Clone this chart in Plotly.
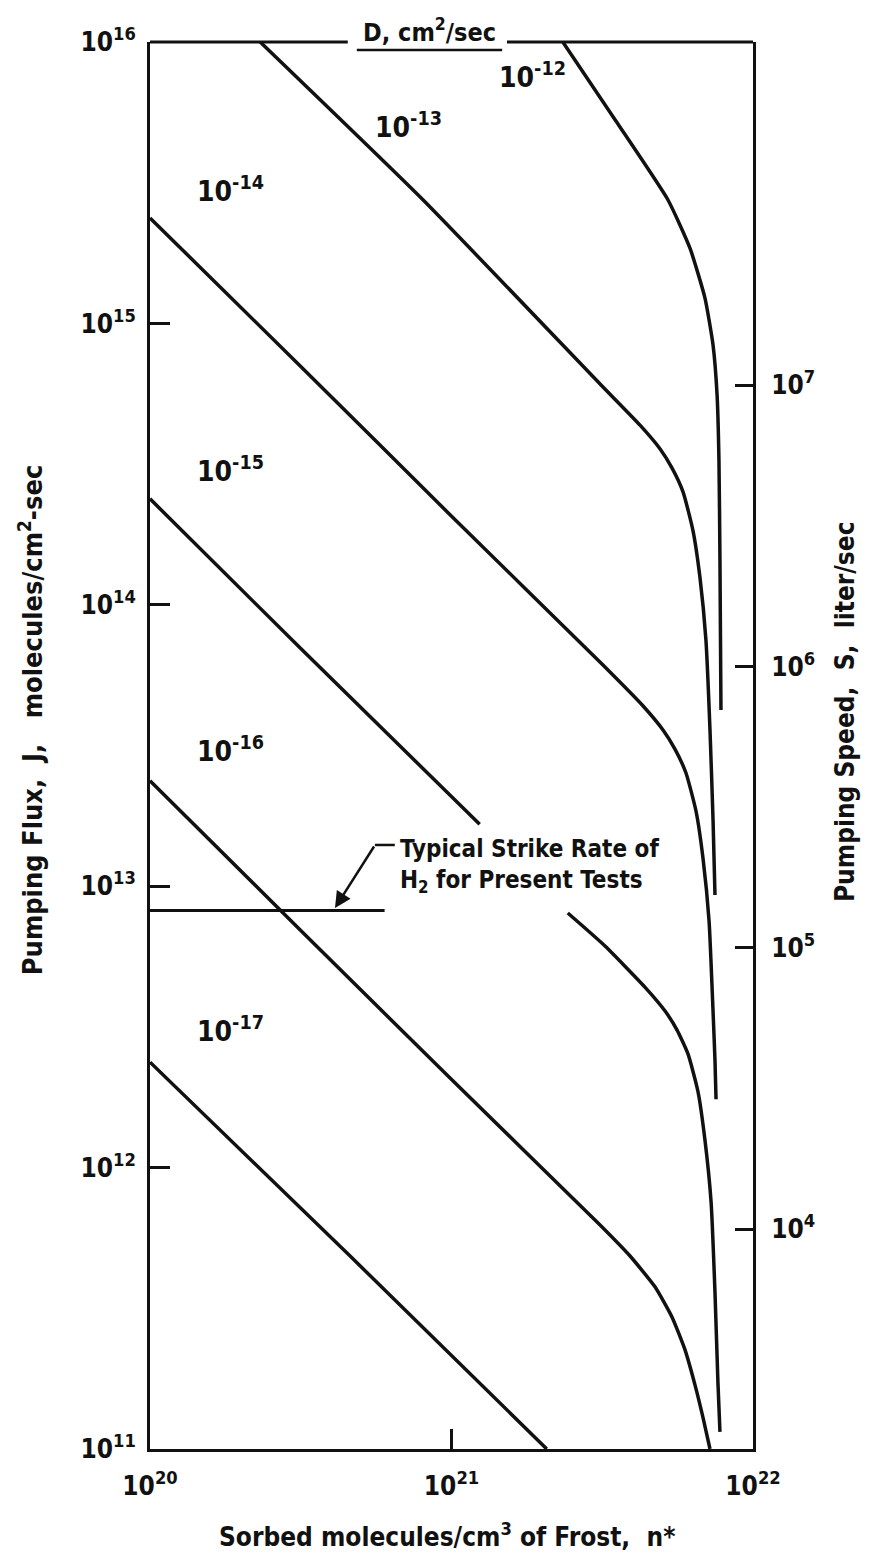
import plotly.graph_objects as go

# sorbed molecules n* (molecules/cm3) vs pumping flux J (molecules/cm2-sec), one curve per D (cm2/sec)
n_d12 = [2.34e21, 3.51e21, 5.22e21, 6.18e21, 6.93e21, 7.37e21, 7.60e21, 7.71e21, 7.77e21, 7.83e21]
J_d12 = [1.0e16, 5.24e15, 2.75e15, 1.85e15, 1.23e15, 8.38e14, 5.57e14, 3.27e14, 1.44e14, 4.23e13]

n_d13 = [2.32e20, 8.04e20, 3.11e21, 4.22e21, 4.92e21, 5.39e21, 5.86e21, 6.32e21, 6.67e21, 6.98e21, 7.20e21, 7.37e21, 7.48e21]
J_d13 = [1.0e16, 2.75e15, 6.09e14, 4.35e14, 3.58e14, 3.06e14, 2.52e14, 1.84e14, 1.25e14, 7.50e13, 3.59e13, 1.72e13, 9.30e12]

n_d14 = [1.0e20, 3.15e20, 9.89e20, 3.18e21, 4.32e21, 5.03e21, 5.51e21, 5.99e21, 6.47e21, 6.83e21, 7.15e21, 7.37e21, 7.48e21, 7.54e21]
J_d14 = [2.37e15, 7.06e14, 2.09e14, 6.11e13, 4.37e13, 3.59e13, 3.07e13, 2.53e13, 1.85e13, 1.25e13, 7.52e12, 3.60e12, 2.41e12, 1.75e12]

# the 1e-15 curve is broken where it runs under the strike-rate note
n_d15 = [1.0e20, 3.15e20, 1.24e21, None, 2.43e21, 3.23e21, 4.38e21, 5.11e21, 5.60e21, 6.09e21, 6.57e21, 6.93e21, 7.26e21, 7.48e21, 7.65e21, 7.77e21]
J_d15 = [2.38e14, 7.02e13, 1.66e13, None, 8.03e12, 6.13e12, 4.38e12, 3.60e12, 3.08e12, 2.53e12, 1.86e12, 1.25e12, 7.55e11, 3.61e11, 1.73e11, 1.15e11]

n_d16 = [1.0e20, 3.15e20, 9.89e20, 3.11e21, 3.91e21, 4.73e21, 5.39e21, 5.95e21, 6.42e21, 6.83e21, 7.20e21]
J_d16 = [2.37e13, 6.99e12, 2.08e12, 6.25e11, 4.85e11, 3.77e11, 2.94e11, 2.25e11, 1.69e11, 1.29e11, 1.0e11]

n_d17 = [1.0e20, 4.61e20, 2.07e21]
J_d17 = [2.37e12, 4.85e11, 1.0e11]

# typical strike rate of H2
n_strike = [1.0e20, 6.0e20]
J_strike = [8.2e12, 8.2e12]

curve_labels = ["10<sup>-12</sup>", "10<sup>-13</sup>", "10<sup>-14</sup>",
                "10<sup>-15</sup>", "10<sup>-16</sup>", "10<sup>-17</sup>"]

x_tickvals = [1e20, 1e21, 1e22]
x_ticktext = ["10<sup>20</sup>", "10<sup>21</sup>", "10<sup>22</sup>"]
y_tickvals = [1e11, 1e12, 1e13, 1e14, 1e15, 1e16]
y_ticktext = ["10<sup>11</sup>", "10<sup>12</sup>", "10<sup>13</sup>",
              "10<sup>14</sup>", "10<sup>15</sup>", "10<sup>16</sup>"]
s_tickvals = [1e4, 1e5, 1e6, 1e7]
s_ticktext = ["10<sup>4</sup>", "10<sup>5</sup>", "10<sup>6</sup>", "10<sup>7</sup>"]

FONT = "DejaVu Sans Condensed, Liberation Sans Narrow, sans-serif"
INK = "#111111"

fig = go.Figure()

curves = [(n_d12, J_d12), (n_d13, J_d13), (n_d14, J_d14),
          (n_d15, J_d15), (n_d16, J_d16), (n_d17, J_d17)]
for n, J in curves:
    fig.add_trace(go.Scatter(x=n, y=J, mode="lines", line=dict(color=INK, width=3.5, shape="spline", smoothing=0.5),
                             connectgaps=False, showlegend=False, hoverinfo="skip"))

fig.add_trace(go.Scatter(x=n_strike, y=J_strike, mode="lines", line=dict(color=INK, width=3),
                         showlegend=False, hoverinfo="skip"))

# invisible trace so the right (pumping speed) axis gets drawn
fig.add_trace(go.Scatter(x=[x_tickvals[0]], y=[s_tickvals[0]], yaxis="y2", mode="markers",
                         marker=dict(opacity=0), showlegend=False, hoverinfo="skip"))

#label positions in paper coords
label_pos = [(0.635, 0.9765), (0.428, 0.941), (0.133, 0.895), (0.133, 0.696), (0.133, 0.497), (0.133, 0.298)]
annotations = []
for lab, (x, y) in zip(curve_labels, label_pos):
    annotations.append(dict(text=lab, x=x, y=y, xref="paper", yref="paper", xanchor="center", yanchor="middle",
                            showarrow=False, font=dict(size=28, family=FONT, color=INK, weight="bold")))

annotations += [
    dict(text="D, cm<sup>2</sup>/sec", x=0.464, y=1.008, xref="paper", yref="paper",
         xanchor="center", yanchor="middle", showarrow=False,
         font=dict(size=25, family=FONT, color=INK, weight="bold")),
    dict(text="Typical Strike Rate of<br>H<sub>2</sub> for Present Tests", x=0.411, y=0.4378,
         xref="paper", yref="paper", xanchor="left", yanchor="top", align="left", showarrow=False,
         font=dict(size=24, family=FONT, color=INK, weight="bold")),
    dict(text="", x=0.3068, y=0.3845, xref="paper", yref="paper", ax=40, ay=-63,
         showarrow=True, arrowhead=2, arrowsize=1.3, arrowwidth=2.5, arrowcolor=INK),
    dict(text="Pumping Flux,  J,   molecules/cm<sup>2</sup>-sec", x=-0.199, y=0.518, xref="paper", yref="paper",
         xanchor="center", yanchor="middle", textangle=-90, showarrow=False,
         font=dict(size=27, family=FONT, color=INK, weight="bold")),
    dict(text="Pumping Speed,  S,  liter/sec", x=1.1526, y=0.5238, xref="paper", yref="paper",
         xanchor="center", yanchor="middle", textangle=-90, showarrow=False,
         font=dict(size=26, family=FONT, color=INK, weight="bold")),
    dict(text="Sorbed molecules/cm<sup>3</sup> of Frost,  n*", x=0.4925, y=-0.0611, xref="paper", yref="paper",
         xanchor="center", yanchor="middle", showarrow=False,
         font=dict(size=26, family=FONT, color=INK, weight="bold")),
]

shapes = [
    # top frame, broken where the D label sits
    dict(type="line", xref="paper", yref="paper", x0=0, x1=0.328, y0=1, y1=1, line=dict(color=INK, width=3)),
    dict(type="line", xref="paper", yref="paper", x0=0.592, x1=1, y0=1, y1=1, line=dict(color=INK, width=3)),
    # underline of D label
    dict(type="line", xref="paper", yref="paper", x0=0.343, x1=0.584, y0=0.9943, y1=0.9943, line=dict(color=INK, width=2.5)),
    # short horizontal of the leader
    dict(type="line", xref="paper", yref="paper", x0=0.373, x1=0.406, y0=0.4293, y1=0.4293, line=dict(color=INK, width=2.5)),
]

axis_common = dict(type="log", showgrid=False, zeroline=False, showline=True, linecolor=INK, linewidth=3,
                   ticks="inside", tickcolor=INK, tickwidth=2.5,
                   tickfont=dict(size=26, family=FONT, color=INK, weight="bold"))

# page body has an 8px margin, so the margins are trimmed by 8 on the top/left
fig.update_layout(
    width=876, height=1563,
    margin=dict(l=142, r=131, t=34, b=122, pad=0),
    paper_bgcolor="white", plot_bgcolor="white",
    xaxis=dict(axis_common, range=[20, 22], tickvals=x_tickvals, ticktext=x_ticktext, ticklen=20,
               ticklabelstandoff=12),
    yaxis=dict(axis_common, range=[11, 16], tickvals=y_tickvals, ticktext=y_ticktext, ticklen=20,
               ticklabelstandoff=6),
    yaxis2=dict(axis_common, range=[3.219, 8.219], tickvals=s_tickvals, ticktext=s_ticktext, ticklen=18,
                ticklabelstandoff=10, overlaying="y", side="right", anchor="x"),
    annotations=annotations,
    shapes=shapes,
)

fig.write_html("out.html")
